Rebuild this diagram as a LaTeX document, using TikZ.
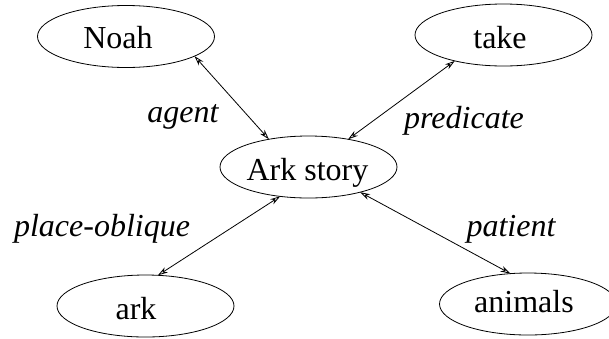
\documentclass[tikz,border=0pt]{standalone}
\usepackage{fontspec}
\setmainfont{Liberation Serif}
\usetikzlibrary{shapes.geometric,arrows.meta}
\tikzset{
  concept/.style={draw, ellipse, line width=0.8pt, minimum width=177pt, minimum height=62pt, inner sep=0pt, outer sep=0pt},
  word/.style={anchor=base, inner sep=0pt, font=\fontsize{32}{36}\selectfont},
  rel/.style={anchor=base, inner sep=0pt, font=\fontsize{32}{36}\selectfont\itshape},
  link/.style={line width=0.8pt, {Stealth[open,length=10pt,width=6pt]}-{Stealth[open,length=10pt,width=6pt]}}
}
\begin{document}
\begin{tikzpicture}[x=1pt,y=-1pt]
\useasboundingbox (0,0) rectangle (609,338);
\node[concept] (noah) at (126,36.5) {};
\node[concept] (take) at (503.5,35) {};
\node[concept] (story) at (308.5,167) {};
\node[concept] (ark) at (145.5,306) {};
\node[concept] (animals) at (528,304) {};
\node[word] (noaht) at (118,48) {Noah};
\node[word] (taket) at (500,48) {take};
\node[word] (storyt) at (307.5,180) {Ark story};
\node[word] (arkt) at (136,319) {ark};
\node[word] (animalst) at (524,312) {animals};
\draw[link] (noah.-16) -- (story.145);
\draw[link] (take.-152) -- (story.35);
\draw[link] (story.-134.5) -- (ark.68);
\draw[link] (story.-26.3) -- (animals.120);
\node[rel] (lagent) at (183,122) {agent};
\node[rel] (lpred) at (464,128) {predicate};
\node[rel] (lplace) at (102,236) {place-oblique};
\node[rel] (lpat) at (511,236) {patient};
\end{tikzpicture}
\end{document}
